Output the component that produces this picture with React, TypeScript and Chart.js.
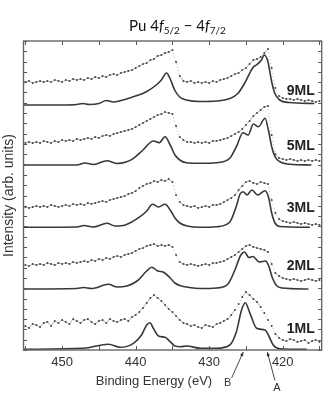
import React, { useEffect, useRef } from "react";
import { Chart, registerables } from "chart.js";

Chart.register(...registerables);

// Binding-energy grid of the measured points (eV)
const E_GRID = [
  455, 454.5, 454, 453.5, 453, 452.5, 452, 451.5, 451, 450.5,
  450, 449.5, 449, 448.5, 448, 447.5, 447, 446.5, 446, 445.5,
  445, 444.5, 444, 443.5, 443, 442.5, 442, 441.5, 441, 440.5,
  440, 439.5, 439, 438.5, 438, 437.5, 437, 436.5, 436, 435.5,
  435, 434.5, 434, 433.5, 433, 432.5, 432, 431.5, 431, 430.5,
  430, 429.5, 429, 428.5, 428, 427.5, 427, 426.5, 426, 425.5,
  425, 424.5, 424, 423.5, 423, 422.5, 422, 421.5, 421, 420.5,
  420, 419.5, 419, 418.5, 418, 417.5, 417, 416.5, 416, 415.5,
  415,
];

// Measured spectra (dots), intensity in arbitrary stacked units
const DOTS_9ML = [
  268, 269, 267, 268, 269, 268, 269, 268, 270, 269,
  268, 270, 269, 271, 270, 271, 270, 272, 271, 273,
  272, 274, 273, 275, 276, 275, 277, 278, 279, 280,
  282, 284, 286, 287, 290, 291, 294, 295, 297, 298,
  300, 288, 274, 269, 268, 269, 267, 268, 267, 268,
  267, 269, 268, 270, 271, 272, 274, 276, 277, 280,
  282, 286, 290, 291, 293, 297, 301, 282, 262, 254,
  252, 251, 251, 250, 251, 250, 249, 250, 249, 248,
  249,
];
const DOTS_5ML = [
  207, 208, 207, 208, 207, 209, 208, 207, 209, 208,
  210, 209, 210, 209, 211, 210, 211, 212, 211, 213,
  212, 214, 215, 214, 216, 217, 218, 219, 220, 221,
  223, 225, 227, 229, 231, 233, 235, 236, 238, 237,
  236, 224, 213, 210, 208, 208, 207, 208, 207, 208,
  207, 209, 209, 210, 211, 212, 214, 216, 218, 221,
  225, 229, 234, 237, 240, 243, 244, 215, 196, 192,
  191, 190, 191, 190, 189, 190, 189, 190, 189, 190,
  189,
];
const DOTS_3ML = [
  143, 142, 143, 144, 143, 144, 143, 145, 144, 143,
  144, 145, 144, 146, 145, 146, 145, 147, 146, 147,
  148, 149, 148, 150, 151, 152, 153, 154, 156, 157,
  159, 162, 164, 166, 167, 169, 168, 170, 169, 171,
  168, 155, 148, 145, 144, 143, 144, 142, 143, 144,
  143, 145, 145, 146, 148, 150, 152, 155, 160, 164,
  168, 169, 167, 166, 168, 167, 166, 150, 137, 131,
  129, 128, 127, 128, 127, 126, 127, 126, 125, 126,
  125,
];
const DOTS_2ML = [
  85, 84, 86, 85, 86, 85, 87, 86, 85, 87,
  86, 87, 86, 88, 87, 88, 89, 88, 90, 89,
  91, 90, 92, 91, 93, 94, 93, 95, 96, 97,
  99, 101, 102, 104, 105, 106, 104, 105, 104, 105,
  103, 95, 88, 86, 85, 86, 85, 84, 85, 86,
  85, 87, 87, 88, 89, 91, 93, 95, 98, 101,
  104, 105, 103, 102, 101, 100, 98, 86, 77, 74,
  72, 71, 70, 71, 70, 69, 70, 71, 70, 69,
  70,
];
const DOTS_1ML = [
  24, 22, 26, 25, 23, 27, 28, 24, 29, 27,
  30, 28, 26, 31, 29, 27, 30, 31, 28, 26,
  29, 30, 27, 31, 29, 28, 30, 31, 29, 33,
  35, 38, 42, 47, 52, 55, 52, 49, 45, 41,
  38, 34, 30, 27, 26, 24, 25, 23, 22, 25,
  24, 23, 26, 27, 29, 31, 35, 40, 46, 53,
  58, 55, 51, 48, 43, 37, 30, 24, 16, 12,
  10, 9, 11, 10, 8, 9, 10, 7, 9, 10,
  8,
];

// Fitted curves (solid lines)
const FIT_9ML_E = [455.2, 450, 448, 447.2, 446.3, 445, 444, 443, 442, 440.4, 438.6, 437.2, 436.5, 435.8, 435.35, 434.7, 434, 433.1, 431.3, 429, 427.2, 426.1, 425.2, 424, 423.6, 422.9, 422.5, 422, 421.55, 421.1, 420.4, 419.1, 415.7];
const FIT_9ML = [245, 245, 245.5, 246.5, 245.5, 246.5, 249.5, 248, 249.5, 253, 258, 265, 270, 277, 272, 260, 253, 250, 248.5, 249, 251.5, 256.5, 266.5, 283, 285, 290, 295, 288, 270, 257, 250, 247.5, 246.5];

const FIT_5ML_E = [455.2, 448, 446.9, 445.7, 443.9, 442.6, 441.3, 440.3, 439, 437.6, 436.8, 436, 435.3, 434.65, 434, 433.1, 431.2, 429, 427.2, 426.3, 425.4, 424.7, 424, 423.3, 422.4, 421.95, 421.5, 421.05, 420.4, 419, 416.1];
const FIT_5ML = [185, 185, 187, 185.5, 189.3, 186.5, 188, 191.7, 200, 209, 207.3, 213.3, 205, 195, 190, 187.3, 186.7, 187.3, 191.7, 203.3, 217.3, 215, 226, 223.3, 231.7, 220, 203.3, 193.3, 188.3, 185.7, 185];

const FIT_3ML_E = [455.2, 448, 447, 445.8, 443.9, 442.8, 441.4, 439.4, 438.5, 437.7, 436.9, 436, 435.3, 434.65, 434, 433, 431.2, 429, 427.2, 426.3, 425.8, 425.4, 424.85, 424.2, 423.4, 422.4, 421.9, 421.5, 421.05, 420.4, 416.3];
const FIT_3ML = [122.7, 123, 124.5, 123, 126.7, 124, 125, 133.3, 139, 145.7, 143, 145.7, 140, 132, 127, 124, 122.7, 123.3, 128, 144, 156, 158.3, 155, 160, 155, 159.3, 152, 137, 127, 123.5, 122.7];

const FIT_2ML_E = [455.2, 448, 447.1, 446, 443.7, 442.5, 441.2, 439.8, 438.5, 437.8, 437, 436.2, 435.3, 434.65, 434, 432.7, 431.2, 429, 427.45, 426.5, 425.7, 425.2, 424.6, 424.05, 423.2, 422.35, 421.9, 421.4, 420.85, 420.1, 416.5];
const FIT_2ML = [61, 61.5, 62.5, 61.5, 65.7, 63, 64, 69, 79, 82.7, 79, 77.7, 72, 67, 64.5, 62.5, 61.5, 62, 66, 80, 95, 98, 92.5, 93.5, 88, 89, 84, 72, 64.5, 62, 61];

const FIT_1ML_E = [455.2, 447.1, 443.7, 442.1, 440.3, 439.2, 438.5, 438.05, 437.6, 436.9, 436, 435.3, 434.65, 433.9, 433.05, 431.2, 429, 427.2, 426.3, 425.6, 425.1, 424.45, 423.55, 422.4, 421.95, 421.3, 420.4, 416.75];
const FIT_1ML = [0.7, 1.7, 5.7, 2.7, 6.7, 15, 25, 27.3, 21.7, 14, 12.7, 8.3, 4, 3.3, 4, 1.7, 1.7, 5, 18.3, 40, 47.3, 36.7, 21.7, 20, 15, 5, 1.3, 0.7];

const SERIES_NAMES = ["9ML", "5ML", "3ML", "2ML", "1ML"];
const X_TICKS = [455, 450, 445, 440, 435, 430, 425, 420, 415];
const X_TICK_LABELS = [450, 440, 430, 420];
const PEAK_MARKS = ["B", "A"];
const PEAK_ENERGIES = [425.37, 422.1];

const FONT = '"Liberation Sans", Arial, Helvetica, sans-serif';

export default function App() {
  const ref = useRef<HTMLCanvasElement>(null);

  useEffect(() => {
    if (!ref.current) return;
    const toPts = (xs: number[], ys: number[]) => xs.map((x, i) => ({ x, y: ys[i] }));

    const dotsSets = [DOTS_9ML, DOTS_5ML, DOTS_3ML, DOTS_2ML, DOTS_1ML];
    const fitSets: [number[], number[]][] = [
      [FIT_9ML_E, FIT_9ML],
      [FIT_5ML_E, FIT_5ML],
      [FIT_3ML_E, FIT_3ML],
      [FIT_2ML_E, FIT_2ML],
      [FIT_1ML_E, FIT_1ML],
    ];
    const labelLevels = [259, 204, 141.5, 83.5, 21.3];

    const datasets: any[] = [];
    SERIES_NAMES.forEach((name, i) => {
      datasets.push({
        label: name + " data",
        data: toPts(E_GRID, dotsSets[i]),
        showLine: true,
        borderColor: "rgba(80,80,80,0.75)",
        borderWidth: 0.6,
        pointRadius: 1,
        pointBorderWidth: 0,
        pointBackgroundColor: "#444",
        pointHoverRadius: 1,
        tension: 0,
        segment: {
          borderDash: (ctx: any) =>
            Math.abs(ctx.p1.parsed.y - ctx.p0.parsed.y) > 5 ? [1, 2.5] : undefined,
        },
      });
      datasets.push({
        label: name + " fit",
        data: toPts(fitSets[i][0], fitSets[i][1]),
        showLine: true,
        borderColor: "#383838",
        borderWidth: 1.6,
        pointRadius: 0,
        cubicInterpolationMode: "monotone",
      });
    });

    const decor = {
      id: "decor",
      afterDraw(chart: any) {
        const { ctx, chartArea: a, scales } = chart;
        const xs = scales.x;
        const ys = scales.y;
        ctx.save();
        const line = (x1: number, y1: number, x2: number, y2: number) => {
          ctx.beginPath();
          ctx.moveTo(x1, y1);
          ctx.lineTo(x2, y2);
          ctx.stroke();
        };
        // inward tick marks
        ctx.strokeStyle = "#555";
        ctx.lineWidth = 1;
        xs.ticks.forEach((t: any) => {
          const px = Math.round(xs.getPixelForValue(t.value)) + 0.5;
          line(px, a.top, px, a.top + 4);
          line(px, a.bottom, px, a.bottom - 4);
        });
        ys.ticks.forEach((t: any) => {
          const py = Math.round(ys.getPixelForValue(t.value)) + 0.5;
          line(a.left, py, a.left + 3.5, py);
          line(a.right, py, a.right - 3.5, py);
        });
        // frame
        ctx.strokeStyle = "#666";
        ctx.lineWidth = 1.4;
        ctx.strokeRect(a.left, a.top, a.right - a.left, a.bottom - a.top);

        // series labels
        ctx.fillStyle = "#222";
        ctx.font = "bold 14px " + FONT;
        ctx.textAlign = "right";
        ctx.textBaseline = "middle";
        SERIES_NAMES.forEach((name, i) => {
          ctx.fillText(name, a.right - 7, ys.getPixelForValue(labelLevels[i]));
        });

        // x-axis title
        ctx.fillStyle = "#333";
        ctx.font = "13px " + FONT;
        ctx.textAlign = "center";
        ctx.fillText("Binding Energy (eV)", a.left + 130.5, a.bottom + 31);

        // peak markers with arrows
        const marks = [
          { tail: [-11.6, 26], text: [-15.5, 31] },
          { tail: [7.7, 28.5], text: [9.7, 35.5] },
        ];
        ctx.strokeStyle = "#333";
        ctx.fillStyle = "#333";
        ctx.lineWidth = 0.9;
        ctx.font = "11px " + FONT;
        PEAK_MARKS.forEach((m, i) => {
          const tx = xs.getPixelForValue(PEAK_ENERGIES[i]);
          const ty = a.bottom + 2;
          const sx = tx + marks[i].tail[0];
          const sy = ty + marks[i].tail[1];
          line(sx, sy, tx, ty);
          const ang = Math.atan2(ty - sy, tx - sx);
          const hl = 4.5;
          ctx.beginPath();
          ctx.moveTo(tx, ty);
          ctx.lineTo(tx - hl * Math.cos(ang - 0.4), ty - hl * Math.sin(ang - 0.4));
          ctx.lineTo(tx - hl * Math.cos(ang + 0.4), ty - hl * Math.sin(ang + 0.4));
          ctx.closePath();
          ctx.fill();
          ctx.fillText(m, tx + marks[i].text[0], ty + marks[i].text[1]);
        });
        ctx.restore();
      },
    };

    const chart = new Chart(ref.current, {
      type: "line",
      data: { datasets },
      options: {
        animation: false,
        responsive: false,
        maintainAspectRatio: false,
        devicePixelRatio: 1,
        events: [],
        layout: { padding: { top: 41, right: 10.3, bottom: 0, left: 0 } },
        plugins: { legend: { display: false }, title: { display: false }, tooltip: { enabled: false } },
        scales: {
          x: {
            type: "linear",
            reverse: true,
            bounds: "data",
            min: 414.7,
            max: 455.25,
            grid: { display: false, drawTicks: false },
            border: { display: false },
            ticks: {
              autoSkip: false,
              maxRotation: 0,
              padding: 5,
              color: "#333",
              font: { family: FONT, size: 13 },
              callback: (v: any) => (X_TICK_LABELS.includes(Number(v)) ? String(v) : ""),
            },
            afterBuildTicks: (s: any) => {
              s.ticks = X_TICKS.map((v) => ({ value: v }));
            },
            afterFit: (s: any) => {
              s.height = 45;
            },
          },
          y: {
            type: "linear",
            min: 0,
            max: 309,
            grid: { display: false, drawTicks: false },
            border: { display: false },
            ticks: { display: false, stepSize: 10.3, includeBounds: false },
            title: {
              display: true,
              text: "Intensity (arb. units)",
              color: "#333",
              font: { family: FONT, size: 14 },
              padding: { top: 1, bottom: 0 },
            },
            afterFit: (s: any) => {
              s.width = 23.5;
            },
          },
        },
      } as any,
      plugins: [decor],
    });
    return () => chart.destroy();
  }, []);

  return (
    <div style={{ position: "absolute", left: 0, top: 0, width: 332, height: 395, background: "#fff" }}>
      <canvas ref={ref} width={332} height={395} style={{ position: "absolute", left: 0, top: 0, width: 332, height: 395 }} />
      <div
        style={{
          position: "absolute",
          left: 0,
          top: 17,
          width: 355,
          textAlign: "center",
          fontFamily: "Lato, 'Open Sans', sans-serif",
          fontSize: 15,
          lineHeight: "16px",
          color: "#111",
          whiteSpace: "nowrap",
        }}
      >
        Pu 4<i>f</i>
        <sub style={{ fontSize: 10, verticalAlign: "-3px", lineHeight: 0 }}>5/2</sub> − 4<i>f</i>
        <sub style={{ fontSize: 10, verticalAlign: "-3px", lineHeight: 0 }}>7/2</sub>
      </div>
    </div>
  );
}
